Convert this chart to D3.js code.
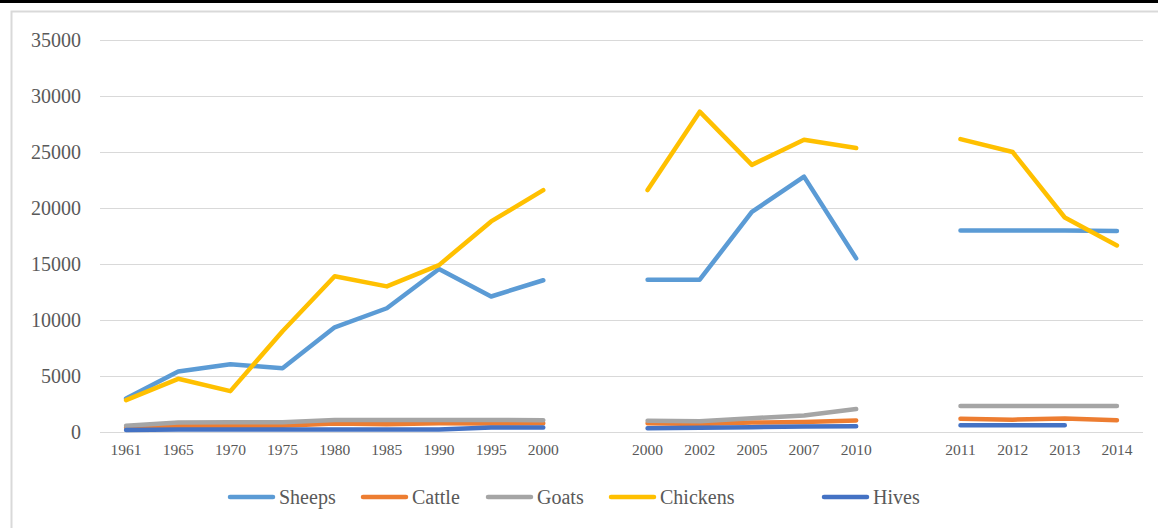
<!DOCTYPE html>
<html>
<head>
<meta charset="utf-8">
<script src="https://cdn.jsdelivr.net/npm/d3@7"></script>
<style>
  html, body { margin: 0; padding: 0; background: #fff; }
  svg { display: block; }
</style>
</head>
<body>
<svg id="chart" width="1158" height="528"></svg>
<script>
// ---- data ----
const categories = ["1961","1965","1970","1975","1980","1985","1990","1995","2000","",
                    "2000","2002","2005","2007","2010","",
                    "2011","2012","2013","2014"];
const sheeps   = [3000, 5400, 6050, 5700, 9350, 11050, 14550, 12100, 13550, null,
                  13600, 13600, 19650, 22800, 15500, null,
                  18000, 18000, 18000, 17950];
const cattle   = [400, 580, 520, 560, 750, 700, 780, 760, 780, null,
                  780, 720, 840, 900, 1030, null,
                  1180, 1100, 1200, 1060];
const goats    = [550, 850, 860, 870, 1080, 1080, 1080, 1070, 1060, null,
                  1000, 960, 1230, 1470, 2050, null,
                  2330, 2330, 2330, 2330];
const chickens = [2850, 4750, 3650, 9000, 13900, 13000, 14900, 18800, 21600, null,
                  21600, 28600, 23850, 26100, 25350, null,
                  26150, 25000, 19150, 16650];
const hives    = [180, 220, 220, 220, 220, 220, 220, 400, 400, null,
                  340, 380, 430, 480, 520, null,
                  600, 600, 600, null];
const yTicks = [0, 5000, 10000, 15000, 20000, 25000, 30000, 35000];

const series = [
  { name: "Sheeps",   values: sheeps,   color: "#5B9BD5" },
  { name: "Cattle",   values: cattle,   color: "#ED7D31" },
  { name: "Goats",    values: goats,    color: "#A5A5A5" },
  { name: "Chickens", values: chickens, color: "#FFC000" },
  { name: "Hives",    values: hives,    color: "#4472C4" }
];

const FONT = "'Liberation Serif', 'Times New Roman', serif";
const TXT = "#595959";

// ---- layout ----
const svg = d3.select("#chart");
const W = 1158, H = 528;
const plot = { left: 100, right: 1143, top: 40, bottom: 432 };
const legendX = [228, 361, 486, 609, 822];

// frame decorations
svg.append("rect").attr("x", 0).attr("y", 0).attr("width", W).attr("height", 3).attr("fill", "#000");
svg.append("rect").attr("x", 11.5).attr("y", 11.5).attr("width", W + 10).attr("height", H + 10)
   .attr("fill", "none").attr("stroke", "#d9d9d9").attr("stroke-width", 2);

const x = d3.scaleBand()
  .domain(d3.range(categories.length))
  .range([plot.left, plot.right])
  .paddingInner(0).paddingOuter(0);

const y = d3.scaleLinear().domain([0, 35000]).range([plot.bottom, plot.top]);

// gridlines + y labels
const yAxis = d3.axisLeft(y).tickValues(yTicks).tickSize(-(plot.right - plot.left)).tickPadding(19).tickFormat(d3.format("d"));
const gy = svg.append("g").attr("transform", `translate(${plot.left},0)`).call(yAxis);
gy.select(".domain").remove();
gy.selectAll(".tick line").attr("stroke", "#d9d9d9").attr("stroke-width", 1);
gy.selectAll(".tick text").style("font-size", "20px").style("fill", TXT).style("font-family", FONT);

// x labels
const xAxis = d3.axisBottom(x).tickSize(0).tickPadding(12).tickFormat(i => categories[i]);
const gx = svg.append("g").attr("transform", `translate(0,${plot.bottom})`).call(xAxis);
gx.select(".domain").remove();
gx.selectAll(".tick text").style("font-size", "15.5px").style("fill", TXT).style("font-family", FONT);

// lines
const line = d3.line()
  .defined(d => d.v != null)
  .x(d => x(d.i) + x.bandwidth() / 2)
  .y(d => y(d.v));

series.forEach(s => {
  svg.append("path")
    .datum(s.values.map((v, i) => ({ i, v })))
    .attr("fill", "none")
    .attr("stroke", s.color)
    .attr("stroke-width", 4.5)
    .attr("stroke-linecap", "round")
    .attr("stroke-linejoin", "round")
    .attr("d", line);
});

// legend
const legend = svg.append("g").attr("transform", "translate(0,497)");
series.forEach((s, k) => {
  const g = legend.append("g").attr("transform", `translate(${legendX[k]},0)`);
  g.append("line").attr("x1", 2).attr("x2", 45).attr("y1", 0).attr("y2", 0)
    .attr("stroke", s.color).attr("stroke-width", 4.5).attr("stroke-linecap", "round");
  g.append("text").attr("x", 51).attr("y", 7)
    .style("font-size", "20px").style("fill", TXT).style("font-family", FONT).text(s.name);
});
</script>
</body>
</html>
